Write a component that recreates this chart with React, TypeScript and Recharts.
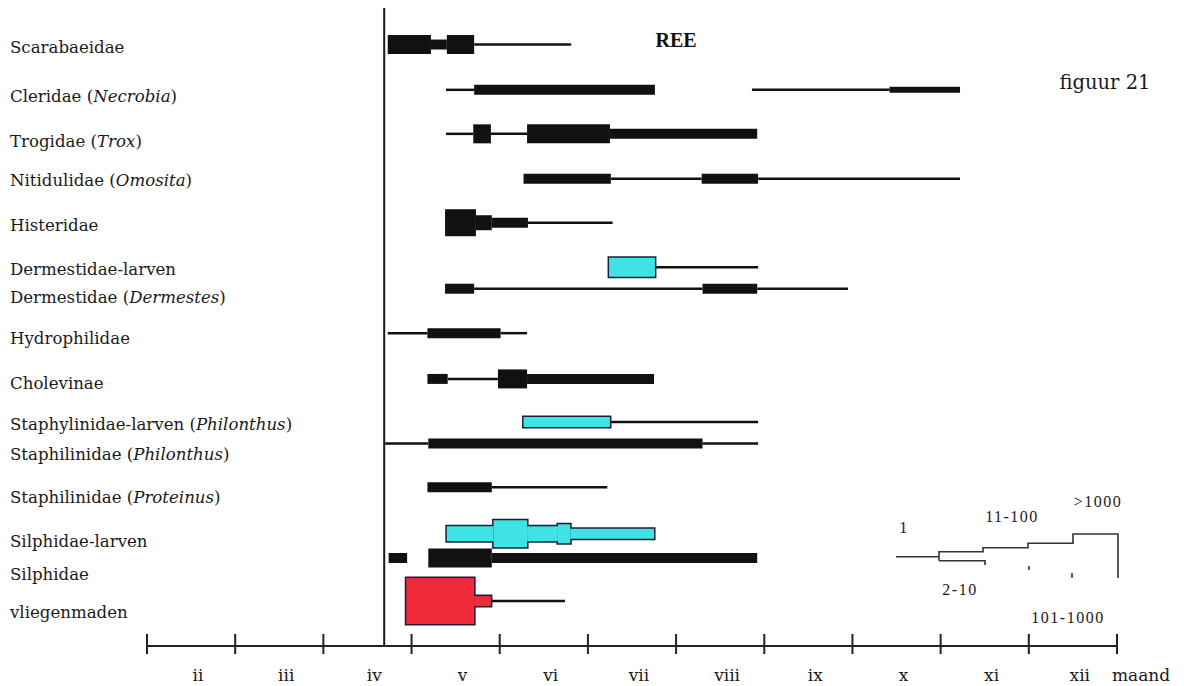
import React from "react";
import { ComposedChart, XAxis, YAxis, ReferenceArea, ReferenceLine } from "recharts";

// month boundaries on the x axis (2 = start of February ... 13 = end of December)
const monthTicks = [2, 3, 4, 5, 6, 7, 8, 9, 10, 11, 12, 13];
const monthLabels = ["ii", "iii", "iv", "v", "vi", "vii", "viii", "ix", "x", "xi", "xii", "maand"];

// row labels: odd parts are italic
const rowLabels = [
  ["Scarabaeidae"],
  ["Cleridae (", "Necrobia", ")"],
  ["Trogidae (", "Trox", ")"],
  ["Nitidulidae (", "Omosita", ")"],
  ["Histeridae"],
  ["Dermestidae-larven"],
  ["Dermestidae (", "Dermestes", ")"],
  ["Hydrophilidae"],
  ["Cholevinae"],
  ["Staphylinidae-larven (", "Philonthus", ")"],
  ["Staphilinidae (", "Philonthus", ")"],
  ["Staphilinidae (", "Proteinus", ")"],
  ["Silphidae-larven"],
  ["Silphidae"],
  ["vliegenmaden"],
];
const rowPos = [0.83, 1.86, 2.86, 3.88, 4.88, 5.89, 6.38, 7.39, 8.43, 9.41, 9.9, 10.89, 11.95, 12.5, 13.48];
const rowKind = ["b", "b", "b", "b", "b", "c", "b", "b", "b", "c", "b", "b", "c", "b", "r"];

// segments: [from month, to month, abundance level]
const scarabaeidae = [[4.73, 5.22, 5], [5.22, 5.4, 3], [5.4, 5.71, 5], [5.71, 6.81, 1]];
const cleridae = [[5.39, 5.71, 1], [5.71, 7.76, 3], [8.86, 10.42, 1], [10.42, 11.22, 2]];
const trogidae = [[5.39, 5.7, 1], [5.7, 5.9, 5], [5.9, 6.31, 1], [6.31, 7.25, 5], [7.25, 8.92, 3]];
const nitidulidae = [[6.27, 7.26, 3], [7.26, 8.29, 1], [8.29, 8.93, 3], [8.93, 11.22, 1]];
const histeridae = [[5.38, 5.73, 6], [5.73, 5.91, 4], [5.91, 6.32, 3], [6.32, 7.28, 1]];
const dermestidaeLarven = [[7.24, 7.76, 5], [7.76, 8.93, 1]];
const dermestes = [[5.38, 5.71, 3], [5.71, 8.3, 1], [8.3, 8.92, 3], [8.92, 9.95, 1]];
const hydrophilidae = [[4.73, 5.18, 1], [5.18, 6.01, 3], [6.01, 6.31, 1]];
const cholevinae = [[5.18, 5.41, 3], [5.41, 5.98, 1], [5.98, 6.31, 5], [6.31, 7.75, 3]];
const staphLarven = [[6.27, 7.25, 3], [7.25, 8.93, 1]];
const staphPhilonthus = [[4.7, 5.19, 1], [5.19, 8.3, 3], [8.3, 8.93, 1]];
const staphProteinus = [[5.18, 5.91, 3], [5.91, 7.22, 1]];
const silphidaeLarven = [[5.4, 5.93, 4], [5.93, 6.31, 6], [6.31, 6.66, 4], [6.66, 6.8, 5], [6.8, 7.75, 3]];
const silphidae = [[4.74, 4.95, 3], [5.19, 5.91, 5], [5.91, 8.92, 3]];
const vliegenmaden = [[4.94, 5.71, 7], [5.71, 5.9, 3], [5.9, 6.74, 1]];

const rowSegments = [
  scarabaeidae, cleridae, trogidae, nitidulidae, histeridae, dermestidaeLarven, dermestes,
  hydrophilidae, cholevinae, staphLarven, staphPhilonthus, staphProteinus, silphidaeLarven,
  silphidae, vliegenmaden,
];

const legendLabels = ["1", "2-10", "11-100", "101-1000", ">1000"];

// layout
const W = 1168;
const H = 678;
const PLOT_BOTTOM = 638;
const Y_MAX = 14.5;
const PX_PER_UNIT = PLOT_BOTTOM / Y_MAX;
const LEVEL_PX: Record<number, number> = { 1: 2.5, 2: 6, 3: 10, 4: 15, 5: 19, 6: 27, 7: 46 };
const LABEL_SHIFT = [8.8, 11.7, 13, 7.3, 8, 7.7, 14.3, 11.3, 10.3, 8, 16.2, 16.3, 13.6, 22, 17.3];
const COLORS: Record<string, string> = { b: "#111", c: "#3fe3e3", r: "#ee2b38" };
const OUTLINE = "#1d1d3a";
const FONT = "'DejaVu Serif', serif";

function RowLabel(props: any) {
  const { y, payload } = props;
  const i = rowPos.indexOf(payload.value);
  if (i < 0) return null;
  return (
    <text x={2} y={y + LABEL_SHIFT[i]} fontFamily={FONT} fontSize={16.6} fill="#1a1a1a">
      {rowLabels[i].map((t, k) => (
        <tspan key={k} fontStyle={k % 2 === 1 ? "italic" : "normal"}>{t}</tspan>
      ))}
    </text>
  );
}

function MonthTick(props: any) {
  const { x, payload } = props;
  const i = monthTicks.indexOf(payload.value);
  const last = i === monthTicks.length - 1;
  return (
    <g>
      <line x1={x} x2={x} y1={PLOT_BOTTOM - 12} y2={PLOT_BOTTOM + 8} stroke="#222" strokeWidth={2} />
      <text x={x + (last ? 24 : 51)} y={PLOT_BOTTOM + 35} textAnchor="middle" fontFamily={FONT} fontSize={17} fill="#1a1a1a">
        {monthLabels[i]}
      </text>
    </g>
  );
}

function areas(pass: "outline" | "fill") {
  const out: React.ReactNode[] = [];
  rowSegments.forEach((segs, r) => {
    const kind = rowKind[r];
    segs.forEach(([a, b, lvl], s) => {
      const half = LEVEL_PX[lvl] / 2 / PX_PER_UNIT;
      const colored = lvl > 1 && kind !== "b";
      if (pass === "outline" && !colored) return;
      out.push(
        <ReferenceArea
          key={`${pass}-${r}-${s}`}
          x1={a}
          x2={b}
          y1={rowPos[r] - half}
          y2={rowPos[r] + half}
          fill={lvl > 1 ? COLORS[kind] : "#111"}
          fillOpacity={1}
          stroke={pass === "outline" ? OUTLINE : "none"}
          strokeWidth={pass === "outline" ? 3 : 0}
          ifOverflow="visible"
        />
      );
    });
  });
  return out;
}

export default function App() {
  return (
    <div style={{ position: "relative", width: W, height: H, background: "#fff" }}>
      <ComposedChart width={W} height={H} data={[]} margin={{ top: 0, right: 59, bottom: 0, left: 0 }}>
        <XAxis
          type="number"
          dataKey="x"
          domain={[2, 13]}
          ticks={monthTicks}
          interval={0}
          height={H - PLOT_BOTTOM}
          axisLine={{ stroke: "#222", strokeWidth: 2 }}
          tickLine={false}
          tick={<MonthTick />}
          allowDataOverflow
        />
        <YAxis
          type="number"
          dataKey="y"
          domain={[0, Y_MAX]}
          reversed
          ticks={rowPos}
          interval={0}
          width={139}
          axisLine={false}
          tickLine={false}
          tick={<RowLabel />}
          allowDataOverflow
        />
        {areas("outline")}
        {areas("fill")}
        <ReferenceLine x={4.69} stroke="#1a1a1a" strokeWidth={2} ifOverflow="visible" />
      </ComposedChart>
      <svg width={W} height={H} style={{ position: "absolute", left: 0, top: 0, pointerEvents: "none" }}>
        <text x={668} y={39} textAnchor="middle" fontFamily="'Liberation Serif', serif" fontWeight="bold" fontSize={20} fill="#111">REE</text>
        <text x={1097} y={81} textAnchor="middle" fontFamily={FONT} fontSize={19.5} fill="#1a1a1a">figuur 21</text>
        <g fill="none" stroke="#333" strokeWidth={1.6}>
          <path d="M888 548.7 H931" />
          <path d="M931 552.7 V543.7 H975 V539.7 H1020 V535.3 H1065 V526 H1110 V570" />
          <path d="M931 552.7 H977 V557" />
          <path d="M1021 558 V562" />
          <path d="M1064 565 V570" />
        </g>
        <g fontFamily="'Liberation Serif', serif" fontSize={16} fill="#1a1a1a" letterSpacing={1.5}>
          <text x={896} y={525} textAnchor="middle">{legendLabels[0]}</text>
          <text x={952} y={587} textAnchor="middle">{legendLabels[1]}</text>
          <text x={1004} y={514} textAnchor="middle">{legendLabels[2]}</text>
          <text x={1060} y={615} textAnchor="middle">{legendLabels[3]}</text>
          <text x={1090} y={499} textAnchor="middle">{legendLabels[4]}</text>
        </g>
      </svg>
    </div>
  );
}
